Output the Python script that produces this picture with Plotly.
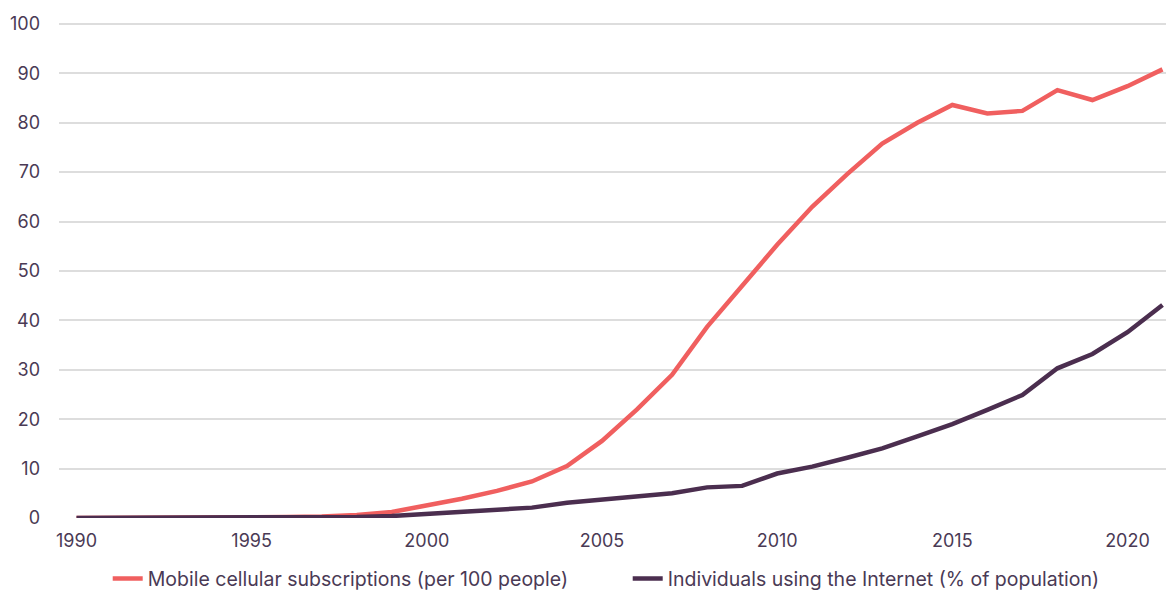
import plotly.graph_objects as go

years = list(range(1990, 2022))

mobile = [0, 0, 0, 0, 0.05, 0.1, 0.2, 0.3, 0.6, 1.2,
          2.5, 3.9, 5.5, 7.4, 10.5, 15.6, 22.0, 29.0, 38.7, 47.0,
          55.3, 63.0, 69.6, 75.8, 80.0, 83.6, 81.9, 82.4, 86.6, 84.6,
          87.4, 90.8]

internet = [0, 0, 0, 0, 0, 0, 0.05, 0.1, 0.2, 0.4,
            0.8, 1.2, 1.6, 2.1, 3.1, 3.7, 4.5, 5.0, 6.2, 6.5,
            9.0, 10.4, 12.2, 14.1, 16.5, 19.0, 21.9, 24.9, 30.3, 33.2,
            37.6, 43.1]

names = ["Mobile cellular subscriptions (per 100 people)",
         "Individuals using the Internet (% of population)"]

red = "#f05f5f"
plum = "#4b2e4f"
text_col = "#4a3a55"

fig = go.Figure()

fig.add_trace(go.Scatter(x=years, y=mobile, mode="lines", name=names[0],
                         line=dict(color=red, width=4.5)))
fig.add_trace(go.Scatter(x=years, y=internet, mode="lines", name=names[1],
                         line=dict(color=plum, width=4.5)))

fig.update_layout(
    width=1166, height=592,
    margin=dict(l=59, r=0, t=20, b=74, autoexpand=False),
    plot_bgcolor="white", paper_bgcolor="white",
    font=dict(family="Inter, Lato, sans-serif", size=18, color=text_col),
    showlegend=True,
    legend=dict(orientation="h", x=0.044, xanchor="left", y=-0.122, yanchor="middle",
                font=dict(size=19.5, color=text_col), itemwidth=30,
                entrywidth=475, tracegroupgap=0),
    xaxis=dict(range=[1989.5, 2021.1], tickvals=[1990, 1995, 2000, 2005, 2010, 2015, 2020],
               showgrid=False, zeroline=False, showline=False, ticks="",
               ticklabelstandoff=10, automargin=False),
    yaxis=dict(range=[0, 100.8], tickvals=list(range(0, 101, 10)),
               showgrid=True, gridcolor="#dddddd", gridwidth=1.5,
               zeroline=False, showline=False, ticks="", ticklabelstandoff=18,
               automargin=False),
)

# drop the default page margin so the figure sits at the window's corner
fig.write_html("out.html", config={"displayModeBar": False},
               post_script="document.body.style.margin='0';")
